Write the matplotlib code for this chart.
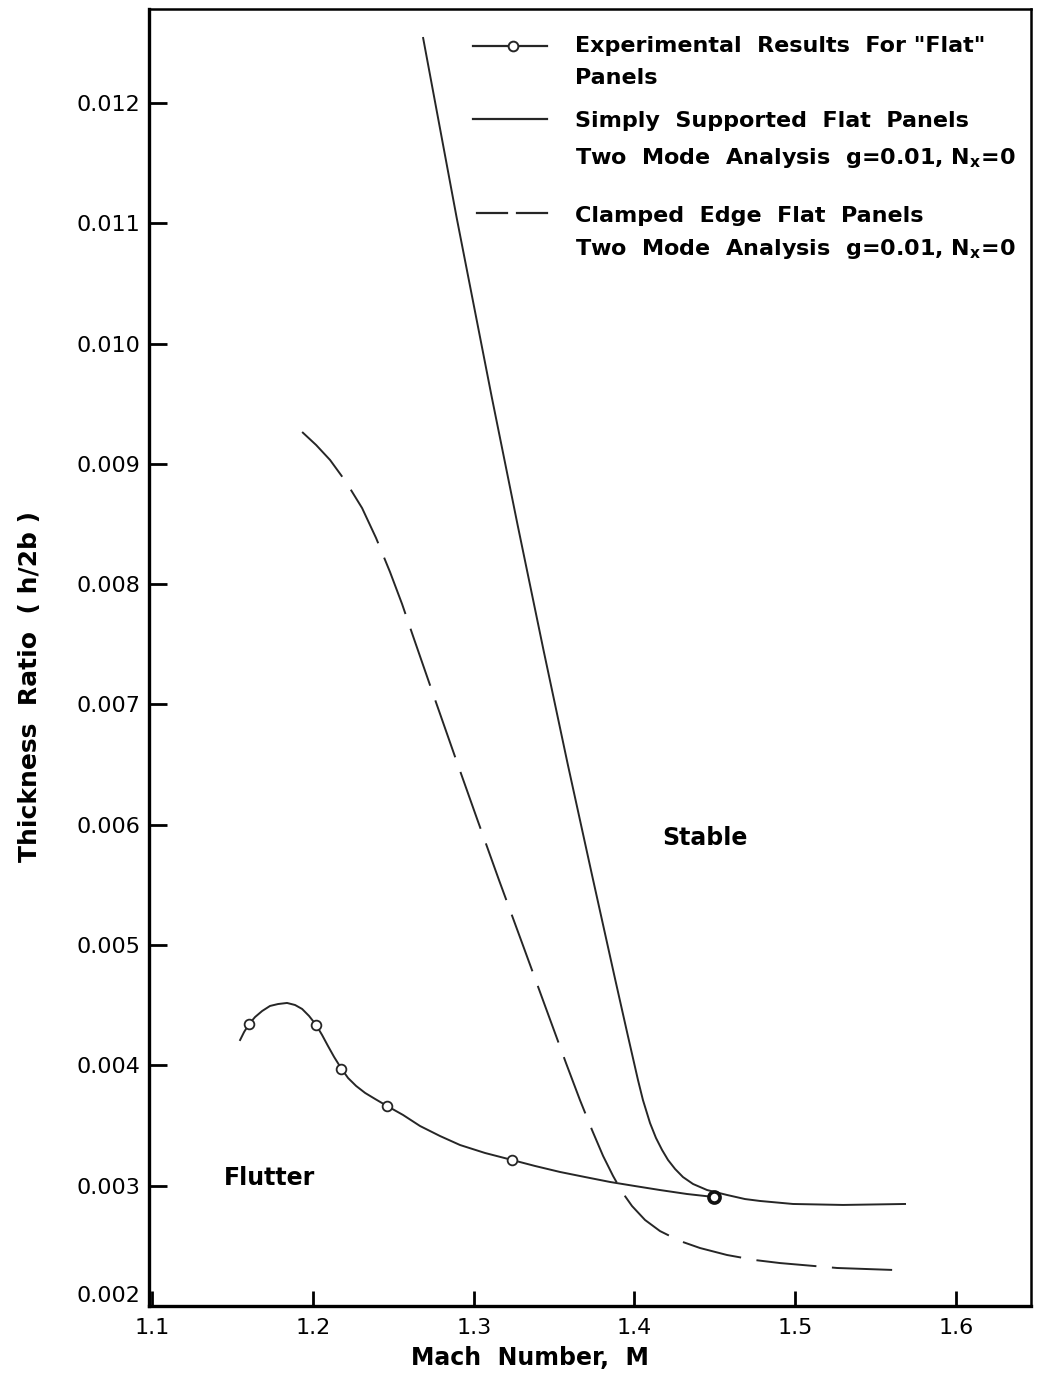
import numpy as np
import matplotlib.pyplot as plt

# Simply supported flat panels, two mode analysis (solid)
ss_mach = [1.2685, 1.2894, 1.3112, 1.3273, 1.3434, 1.3586, 1.3736, 1.3881, 1.3958,
           1.4022, 1.4053, 1.4097, 1.4134, 1.4172, 1.4209, 1.4253, 1.4302, 1.4365,
           1.4452, 1.4576, 1.4688, 1.4782, 1.4987, 1.5298, 1.5684]
ss_ratio = [0.01254, 0.011044, 0.009556, 0.008492, 0.007453, 0.006497, 0.005583,
            0.004710, 0.004253, 0.003879, 0.003712, 0.003521, 0.003397, 0.003297,
            0.003214, 0.003139, 0.003072, 0.003014, 0.002964, 0.002923, 0.002889,
            0.002873, 0.002848, 0.002840, 0.002848]

# Clamped edge flat panels (dashed)
ce_mach = [1.1932, 1.2019, 1.2106, 1.2205, 1.2305, 1.2392, 1.2479, 1.2554, 1.2622,
           1.2747, 1.2884, 1.3021, 1.3157, 1.3301, 1.3444, 1.3574, 1.3661, 1.3736,
           1.3805, 1.3867, 1.3923, 1.3985, 1.4066, 1.4159, 1.4284, 1.4408, 1.4576,
           1.4750, 1.4906, 1.5261, 1.5622]
ce_ratio = [0.009265, 0.009157, 0.009032, 0.008850, 0.008633, 0.008384, 0.008101,
            0.007835, 0.007569, 0.007087, 0.006564, 0.006048, 0.005541, 0.005017,
            0.004494, 0.004020, 0.003712, 0.003463, 0.003247, 0.003081, 0.002948,
            0.002831, 0.002715, 0.002623, 0.002540, 0.002482, 0.002424, 0.002382,
            0.002357, 0.002316, 0.002299]

# Experimental faired curve
exp_mach = [1.1546, 1.1571, 1.1602, 1.1639, 1.1683, 1.1732, 1.1782, 1.1838, 1.1888,
            1.1932, 1.1975, 1.2019, 1.2056, 1.2093, 1.2131, 1.2174, 1.2218, 1.2268,
            1.2324, 1.2386, 1.2460, 1.2560, 1.2666, 1.2790, 1.2915, 1.3070, 1.3238,
            1.3381, 1.3537, 1.3693, 1.3848, 1.4004, 1.4159, 1.4327, 1.4495]
exp_ratio = [0.004211, 0.004278, 0.004344, 0.004402, 0.004452, 0.004494, 0.004510,
             0.004519, 0.004502, 0.004469, 0.004411, 0.004336, 0.004253, 0.004161,
             0.004070, 0.003978, 0.003895, 0.003829, 0.003771, 0.003721, 0.003663,
             0.003588, 0.003496, 0.003413, 0.003338, 0.003272, 0.003214, 0.003164,
             0.003114, 0.003072, 0.003031, 0.002997, 0.002964, 0.002931, 0.002906]

# Experimental points
pts_mach = [1.1602, 1.2019, 1.2174, 1.2460, 1.3238, 1.4495]
pts_ratio = [0.004344, 0.004336, 0.003974, 0.003660, 0.003214, 0.002906]

xticks = [1.1, 1.2, 1.3, 1.4, 1.5, 1.6]
xlabels = ['1.1', '1.2', '1.3', '1.4', '1.5', '1.6']
yticks = [0.002, 0.003, 0.004, 0.005, 0.006, 0.007, 0.008, 0.009, 0.010, 0.011, 0.012]
ylabels = ['0.002', '0.003', '0.004', '0.005', '0.006', '0.007', '0.008', '0.009',
           '0.010', '0.011', '0.012']

plt.rcParams['font.family'] = 'DejaVu Sans'

W, H = 1040, 1376
L, R, T, B = 149, 1031, 9, 1306
fig = plt.figure(figsize=(W / 100, H / 100), dpi=100)
ax = fig.add_axes([L / W, (H - B) / H, (R - L) / W, (B - T) / H])

def axf(px, py):
    # pixel position -> axes fraction (used for legend keys / text only)
    return (px - L) / (R - L), (B - py) / (B - T)

ink = '#262626'
lw = 1.4
ax.plot(ss_mach, ss_ratio, color=ink, lw=lw)
ax.plot(ce_mach, ce_ratio, color=ink, lw=lw, dashes=(31, 8))
ax.plot(exp_mach, exp_ratio, color=ink, lw=lw)
ax.plot(pts_mach[:-1], pts_ratio[:-1], 'o', ms=7, mfc='white', mec=ink, mew=1.3)
ax.plot(pts_mach[-1:], pts_ratio[-1:], 'o', ms=8, mfc='white', mec='#111111', mew=2.6)

ax.set_xlim(1.0979, 1.6468)
ax.set_ylim(0.002, 0.012781)
ax.set_xticks(xticks)
ax.set_xticklabels(xlabels)
ax.set_yticks(yticks)
ax.set_yticklabels(ylabels)
ax.tick_params(axis='x', direction='in', length=11, width=2, pad=9, labelsize=16)
ax.tick_params(axis='y', direction='in', length=13, width=2, pad=6, labelsize=16)
for lab in ax.get_yticklabels():
    if lab.get_text() == '0.002':
        lab.set_va('bottom')
for s in ['left', 'bottom']:
    ax.spines[s].set_linewidth(2.4)
for s in ['top', 'right']:
    ax.spines[s].set_linewidth(1.8)

ax.set_ylabel('Thickness  Ratio  ( h/2b )', fontsize=18, fontweight='bold')
ax.yaxis.set_label_coords(*axf(42, 687))
ax.set_xlabel('Mach  Number,  M', fontsize=17, fontweight='bold')
ax.xaxis.set_label_coords(*axf(530, 1346))
ax.xaxis.label.set_va('top')

ax.text(1.4439, 0.005893, 'Stable', fontsize=17, fontweight='bold', ha='center', va='center')
ax.text(1.1732, 0.003066, 'Flutter', fontsize=17, fontweight='bold', ha='center', va='center')

# legend drawn by hand so keys sit on the first line of each entry
k0, k1 = axf(473, 0)[0], axf(547, 0)[0]
y1 = axf(0, 46)[1]
ax.plot([k0, k1], [y1, y1], transform=ax.transAxes, color=ink, lw=1.6, clip_on=False)
ax.plot([axf(513, 0)[0]], [y1], 'o', transform=ax.transAxes, ms=7, mfc='white',
        mec=ink, mew=1.4, clip_on=False)
y2 = axf(0, 119)[1]
ax.plot([k0, k1], [y2, y2], transform=ax.transAxes, color=ink, lw=1.6, clip_on=False)
y3 = axf(0, 213)[1]
ax.plot([axf(477, 0)[0], axf(507, 0)[0]], [y3, y3], transform=ax.transAxes,
        color=ink, lw=1.6, clip_on=False)
ax.plot([axf(517, 0)[0], k1], [y3, y3], transform=ax.transAxes,
        color=ink, lw=1.6, clip_on=False)

tx = axf(575, 0)[0]
legend_rows = [
    (46, 'Experimental  Results  For "Flat"'),
    (78, 'Panels'),
    (121, 'Simply  Supported  Flat  Panels'),
    (158, r'Two  Mode  Analysis  g=0.01, N$_{\mathbf{x}}$=0'),
    (216, 'Clamped  Edge  Flat  Panels'),
    (249, r'Two  Mode  Analysis  g=0.01, N$_{\mathbf{x}}$=0'),
]
for py, txt in legend_rows:
    ax.text(tx, axf(0, py)[1], txt, transform=ax.transAxes, fontsize=16,
            fontweight='bold', ha='left', va='center')

plt.savefig('out.png', dpi=100)
